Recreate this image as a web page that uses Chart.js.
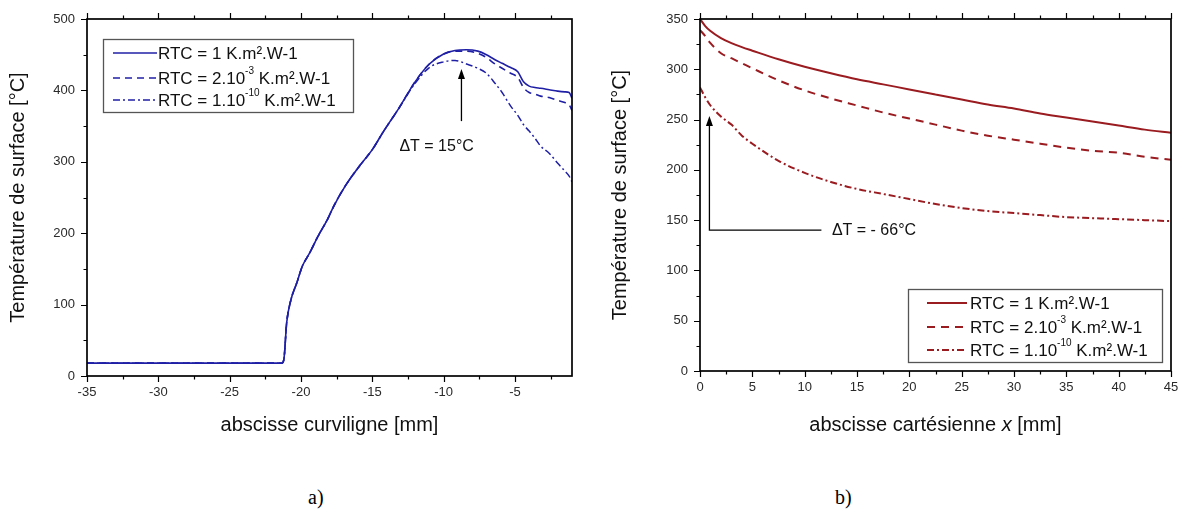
<!DOCTYPE html>
<html><head><meta charset="utf-8">
<script src="https://cdn.jsdelivr.net/npm/chart.js@4/dist/chart.umd.min.js"></script>
<style>
html,body{margin:0;padding:0;background:#fff;width:1186px;height:516px;overflow:hidden}
#wa{position:absolute;left:0;top:0;width:600px;height:470px}
#wb{position:absolute;left:600px;top:0;width:586px;height:470px}
.cap{position:absolute;top:487px;line-height:20px;font-family:"Liberation Serif","Times New Roman",serif;font-size:20px;color:#000}
</style></head>
<body>
<div id="wa"><canvas id="ca" width="600" height="470"></canvas></div>
<div id="wb"><canvas id="cb" width="586" height="470"></canvas></div>
<div class="cap" style="left:308px">a)</div>
<div class="cap" style="left:835px">b)</div>
<script>
// ---------- DATA: chart a) ----------
const xA = [-35, -21.35, -21.2, -21.0, -20.7, -20.3, -19.9, -19.4, -18.8, -18.15, -17.7, -16.9, -15.9, -15.0, -14.2, -13.2, -12.0, -11.0, -10.0, -9.2, -8.4, -7.6, -7.0, -6.4, -5.9, -5.3, -4.8, -4.4, -4.0, -3.6, -3.2, -2.6, -2.0, -1.5, -1.2, -1.0];
const tA1 = [18, 18, 23, 75, 107, 130, 154, 172, 196, 219, 238, 266, 294, 317, 343, 373, 412, 437, 451, 456, 457, 455, 450, 443, 438, 432, 426, 412, 406, 404, 403, 401, 399, 398, 397, 389];
const tA2 = [18, 18, 23, 75, 107, 130, 154, 172, 196, 219, 238, 266, 294, 317, 343, 373, 412, 437, 451, 455, 455, 452, 446, 437, 431, 424, 418, 404, 397, 395, 392, 390, 386, 383, 380, 372];
const tA3 = [18, 18, 23, 75, 107, 130, 154, 172, 196, 219, 238, 266, 294, 317, 343, 373, 410, 432, 440, 442, 437, 431, 424, 410, 397, 378, 365, 352, 343, 333, 322, 312, 298, 287, 280, 272];
const xTicksA = [-35, -30, -25, -20, -15, -10, -5];
const yTicksA = [0, 100, 200, 300, 400, 500];
const legendA = ['RTC = 1 K.m\u00b2.W-1', 'RTC = 2.10^-3 K.m\u00b2.W-1', 'RTC = 1.10^-10 K.m\u00b2.W-1'];
const titlesA = {x: 'abscisse curviligne [mm]', y: 'Temp\u00e9rature de surface [\u00b0C]'};
const annA = {x: -8.75, from: 357, to: 430, textX: -13.1, textY: 321, text: '\u0394T = 15\u00b0C'};

// ---------- DATA: chart b) ----------
const xB = [0, 0.5, 1, 2, 3, 4, 5, 7.5, 10, 12.5, 15, 17.5, 20, 22.5, 25, 27.5, 30, 32.5, 35, 37.5, 40, 42.5, 45];
const tB1 = [350, 343, 338, 331, 326, 322, 318.5, 310, 302.5, 296, 290, 285, 280, 275, 270, 265, 261, 256, 252, 248, 244, 240, 237];
const tB2 = [339, 333, 326, 316, 311, 306, 301, 289, 279, 271, 264, 257, 251, 245, 239, 234, 230, 226, 222, 219, 217, 213, 210];
const tB3 = [282, 272, 264, 253, 245, 234, 226, 209, 197, 188, 181, 176, 171, 166, 162, 159, 157, 155, 153, 152, 151, 150, 149];
const xTicksB = [0, 5, 10, 15, 20, 25, 30, 35, 40, 45];
const yTicksB = [0, 50, 100, 150, 200, 250, 300, 350];
const legendB = ['RTC = 1 K.m\u00b2.W-1', 'RTC = 2.10^-3 K.m\u00b2.W-1', 'RTC = 1.10^-10 K.m\u00b2.W-1'];
const titlesB = {x: 'abscisse cart\u00e9sienne _x_ [mm]', y: 'Temp\u00e9rature de surface [\u00b0C]'};
const annB = {x: 0.9, from: 140, to: 253.5, lineTo: 11.6, textX: 12.6, textY: 140, text: '\u0394T = - 66\u00b0C'};

const FONT = '"Liberation Sans", Arial, sans-serif';
const BLUE = '#1f1fa6';
const RED = '#9a1b20';

function richParts(s) {
  const parts = [];
  const re = /\^(\S+)/g;
  let last = 0, m;
  while ((m = re.exec(s))) {
    if (m.index > last) parts.push({t: s.slice(last, m.index), sup: false});
    parts.push({t: m[1], sup: true});
    last = m.index + m[0].length;
  }
  if (last < s.length) parts.push({t: s.slice(last), sup: false});
  return parts;
}

const deco = {
  id: 'deco',
  afterDatasetsDraw(chart, args, o) {
    const {ctx, chartArea: a, scales: {x, y}} = chart;
    ctx.save();
    // ticks
    ctx.strokeStyle = '#000';
    ctx.lineWidth = 1.2;
    ctx.beginPath();
    const x0 = Math.ceil(x.min / o.xMinor - 1e-9) * o.xMinor;
    for (let v = x0; v <= x.max + 1e-9; v += o.xMinor) {
      const px = Math.round(x.getPixelForValue(v)) + 0.5;
      const major = Math.abs(v / o.xMajor - Math.round(v / o.xMajor)) < 1e-6;
      const L = major ? 6 : 3.5;
      ctx.moveTo(px, a.bottom); ctx.lineTo(px, a.bottom + L);
      ctx.moveTo(px, a.top); ctx.lineTo(px, a.top - L);
    }
    for (let v = y.min; v <= y.max + 1e-9; v += o.yMinor) {
      const py = Math.round(y.getPixelForValue(v)) + 0.5;
      const major = Math.abs(v / o.yMajor - Math.round(v / o.yMajor)) < 1e-6;
      const L = major ? 6 : 3.5;
      ctx.moveTo(a.left, py); ctx.lineTo(a.left - L, py);
    }
    ctx.stroke();
    // frame
    ctx.lineWidth = 1.7;
    ctx.strokeRect(a.left, a.top, a.right - a.left, a.bottom - a.top);

    // x-axis title (supports _italic_ segments)
    if (o.xTitle) {
      ctx.fillStyle = '#111';
      ctx.textBaseline = 'middle';
      ctx.textAlign = 'left';
      const segs = o.xTitle.split('_').map((t, i) => ({t, it: i % 2 === 1}));
      let w = 0;
      segs.forEach(s => { ctx.font = (s.it ? 'italic ' : '') + '20px ' + FONT; w += ctx.measureText(s.t).width; });
      let tx = (a.left + a.right) / 2 - w / 2;
      segs.forEach(s => { ctx.font = (s.it ? 'italic ' : '') + '20px ' + FONT; ctx.fillText(s.t, tx, o.xTitleY); tx += ctx.measureText(s.t).width; });
    }

    // annotation arrow
    const an = o.ann;
    const ax = x.getPixelForValue(an.x);
    const yb = y.getPixelForValue(an.from);
    const yt = y.getPixelForValue(an.to);
    ctx.strokeStyle = '#000';
    ctx.fillStyle = '#000';
    ctx.lineWidth = 1.3;
    ctx.beginPath();
    if (an.lineTo !== undefined) {
      ctx.moveTo(x.getPixelForValue(an.lineTo), yb);
      ctx.lineTo(ax, yb);
    } else {
      ctx.moveTo(ax, yb);
    }
    ctx.lineTo(ax, yt + 8);
    ctx.stroke();
    ctx.beginPath();
    ctx.moveTo(ax, yt);
    ctx.lineTo(ax - 3.5, yt + 10);
    ctx.lineTo(ax + 3.5, yt + 10);
    ctx.closePath();
    ctx.fill();
    ctx.font = '16px ' + FONT;
    ctx.textBaseline = 'middle';
    ctx.textAlign = 'left';
    ctx.fillStyle = '#111';
    ctx.fillText(an.text, x.getPixelForValue(an.textX), y.getPixelForValue(an.textY));

    // legend
    const L = o.legend;
    const bx = a.left + L.x, by = a.top + L.y;
    ctx.fillStyle = '#fff';
    ctx.fillRect(bx, by, L.w, L.h);
    ctx.strokeStyle = '#555';
    ctx.lineWidth = 1.3;
    ctx.strokeRect(bx + 0.5, by + 0.5, L.w, L.h);
    chart.data.datasets.forEach((ds, i) => {
      const ry = by + L.rows[i];
      ctx.strokeStyle = ds.borderColor;
      ctx.lineWidth = ds.borderWidth;
      ctx.setLineDash(ds.borderDash || []);
      ctx.beginPath();
      ctx.moveTo(bx + L.l0, ry);
      ctx.lineTo(bx + L.l1, ry);
      ctx.stroke();
      ctx.setLineDash([]);
      let tx = bx + L.tx;
      ctx.fillStyle = '#111';
      ctx.textBaseline = 'middle';
      richParts(o.labels[i]).forEach(p => {
        if (p.sup) {
          ctx.font = '10px ' + FONT;
          ctx.fillText(p.t, tx, ry - 7);
        } else {
          ctx.font = '17px ' + FONT;
          ctx.fillText(p.t, tx, ry + 1);
        }
        tx += ctx.measureText(p.t).width;
      });
    });
    ctx.restore();
  }
};

function mk(xs, ys) { return xs.map((v, i) => ({x: v, y: ys[i]})); }

function axisCfg(opts) {
  return {
    type: 'linear',
    min: opts.min, max: opts.max,
    afterBuildTicks: s => { s.ticks = opts.ticks.map(v => ({value: v})); },
    afterFit: opts.fit,
    grid: {display: false, drawTicks: true, tickLength: 5},
    border: {display: false},
    ticks: {padding: opts.pad, color: '#2a2a2a', font: {family: FONT, size: 13}, maxRotation: 0, autoSkip: false},
    title: {display: !!opts.title, text: opts.title || '', color: '#111', font: {family: FONT, size: 20}, padding: opts.tpad}
  };
}

new Chart(document.getElementById('ca'), {
  type: 'line',
  data: {datasets: [
    {data: mk(xA, tA1), borderColor: BLUE, borderWidth: 1.6, pointRadius: 0, cubicInterpolationMode: 'monotone', fill: false},
    {data: mk(xA, tA2), borderColor: BLUE, borderWidth: 1.6, borderDash: [7, 5], pointRadius: 0, cubicInterpolationMode: 'monotone', fill: false},
    {data: mk(xA, tA3), borderColor: BLUE, borderWidth: 1.5, borderDash: [7, 3, 2, 3], pointRadius: 0, cubicInterpolationMode: 'monotone', fill: false}
  ]},
  options: {
    responsive: false, animation: false, events: [],
    layout: {padding: {left: 0, top: 19, right: 28, bottom: 0}},
    plugins: {
      legend: {display: false}, tooltip: {enabled: false},
      deco: {xMinor: 2.5, xMajor: 5, yMinor: 50, yMajor: 100, ann: annA, labels: legendA,
        legend: {x: 16, y: 20, w: 250, h: 73, rows: [14, 39, 61], l0: 10, l1: 54, tx: 55}}
    },
    scales: {
      x: axisCfg({min: -35, max: -1, ticks: xTicksA, fit: s => { s.height = 94; }, pad: 4, title: titlesA.x, tpad: {top: 0, bottom: 33}}),
      y: axisCfg({min: 0, max: 500, ticks: yTicksA, fit: s => { s.width = 87; }, pad: 7, title: titlesA.y, tpad: {top: 6, bottom: 0}})
    }
  },
  plugins: [deco]
});

new Chart(document.getElementById('cb'), {
  type: 'line',
  data: {datasets: [
    {data: mk(xB, tB1), borderColor: RED, borderWidth: 2, pointRadius: 0, cubicInterpolationMode: 'monotone', fill: false},
    {data: mk(xB, tB2), borderColor: RED, borderWidth: 2, borderDash: [8, 6], pointRadius: 0, cubicInterpolationMode: 'monotone', fill: false},
    {data: mk(xB, tB3), borderColor: RED, borderWidth: 2, borderDash: [7, 3, 2, 3], pointRadius: 0, cubicInterpolationMode: 'monotone', fill: false}
  ]},
  options: {
    responsive: false, animation: false, events: [],
    layout: {padding: {left: 0, top: 19, right: 15, bottom: 0}},
    plugins: {
      legend: {display: false}, tooltip: {enabled: false},
      deco: {xMinor: 2.5, xMajor: 5, yMinor: 25, yMajor: 50, ann: annB, labels: legendB,
        xTitle: titlesB.x, xTitleY: 425,
        legend: {x: 208, y: 270, w: 254, h: 73, rows: [14, 38, 61], l0: 19, l1: 59, tx: 62}}
    },
    scales: {
      x: axisCfg({min: 0, max: 45, ticks: xTicksB, fit: s => { s.height = 99; }, pad: 4, title: null, tpad: {top: 0, bottom: 33}}),
      y: axisCfg({min: 0, max: 350, ticks: yTicksB, fit: s => { s.width = 100; }, pad: 7, title: titlesB.y, tpad: {top: 8, bottom: 0}})
    }
  },
  plugins: [deco]
});
</script>
</body></html>
